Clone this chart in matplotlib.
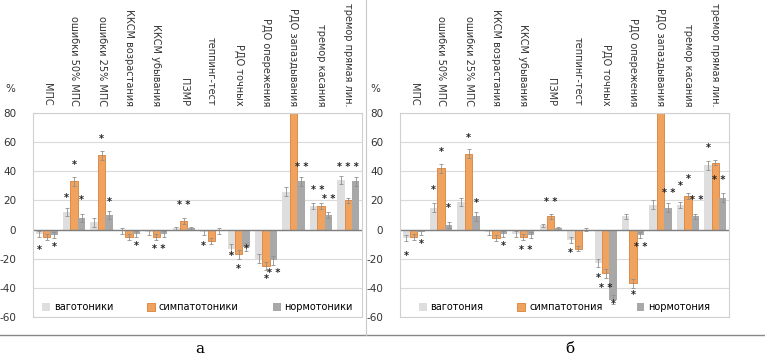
import numpy as np
import matplotlib.pyplot as plt
from matplotlib.lines import Line2D

plt.rcParams["axes.unicode_minus"] = False

# --- данные ---
categories = ["МПС", "ошибки 50% МПС", "ошибки 25% МПС", "ККСМ возрастания",
              "ККСМ убывания", "ПЗМР", "теппинг-тест", "РДО точных",
              "РДО опережения", "РДО запаздывания", "тремор касания",
              "тремор прямая лин."]

# панель а
vago_a = [-3, 12, 5, -1, -2, 1, -2, -13, -20, 26, 16, 34]
symp_a = [-5, 33, 51, -5, -5, 6, -8, -17, -25, 95, 16, 20]
norm_a = [-4, 8, 10, -3, -3, 1, -1, -12, -21, 33, 10, 33]
err_a_vago = [2, 3, 3, 2, 2, 1, 2, 3, 3, 3, 2, 3]
err_a_symp = [2, 3, 3, 2, 2, 2, 2, 3, 3, 3, 2, 2]
err_a_norm = [2, 3, 3, 2, 2, 1, 2, 3, 3, 3, 2, 3]
stars_a = [(0, -1, -14, "*"), (0, 1, -12, "*"),
           (1, 0, 44, "*"), (1, -1, 22, "*"), (1, 1, 20, "*"),
           (2, 0, 62, "*"), (2, 1, 19, "*"),
           (3, 1, -11, "*"), (4, 0.3, -13, "* *"), (5, 0, 17, "* *"),
           (6, -1, -11, "*"),
           (7, -1, -18, "*"), (7, 0, -27, "*"), (7, 1, -13, "*"),
           (8, 0, -34, "*"), (8, 1.1, -30, "* *"),
           (9, 1.1, 43, "* *"),
           (10, -0.4, 27, "* *"), (10, 1, 21, "* *"),
           (11, 0, 43, "* * *")]
legend_a = ["ваготоники", "симпатотоники", "нормотоники"]

# панель б
vago_b = [-6, 15, 19, -2, -3, 3, -7, -23, 9, 17, 17, 44]
symp_b = [-5, 42, 52, -6, -5, 9, -13, -30, -37, 95, 23, 46]
norm_b = [-2, 3, 9, -3, -4, 1, 0, -48, -4, 15, 9, 22]
err_b_vago = [2, 3, 3, 2, 2, 1, 2, 3, 2, 3, 2, 3]
err_b_symp = [2, 3, 3, 2, 2, 2, 2, 3, 3, 3, 2, 2]
err_b_norm = [2, 2, 3, 2, 2, 1, 1, 3, 2, 3, 2, 3]
stars_b = [(0, -1, -18, "*"), (0, 1, -10, "*"),
           (1, 0, 53, "*"), (1, -1, 27, "*"), (1, 1, 15, "*"),
           (2, 0, 63, "*"), (2, 1, 18, "*"),
           (3, 1, -11, "*"), (4, 0.3, -14, "* *"), (5, 0, 19, "* *"),
           (6, -1, -16, "*"),
           (7, -1, -33, "*"), (7, 0, -40, "* *"), (7, 1, -51, "*"),
           (8, 1.1, -12, "* *"), (8, 0, -45, "*"),
           (9, 1.1, 25, "* *"),
           (10, -1, 30, "*"), (10, 0, 35, "*"), (10, 1.2, 20, "* *"),
           (11, -1, 56, "*"), (11, 0.5, 34, "* *")]
legend_b = ["ваготония", "симпатотония", "нормотония"]

c_vago = "#dedede"
c_symp = "#f0a35e"
c_norm = "#a8a8a8"

fig = plt.figure(figsize=(7.65, 3.59), dpi=100)


def draw(ax, vago, symp, norm, errs, stars, leg_labels, pad):
    x = np.arange(len(categories))
    w = 0.27
    ekw = dict(ecolor="#909090", elinewidth=0.6, capsize=1.5, capthick=0.6)
    b1 = ax.bar(x - w, vago, w, color=c_vago, yerr=errs[0], error_kw=ekw)
    b2 = ax.bar(x, symp, w, color=c_symp, edgecolor="#d9803a", linewidth=0.6,
                yerr=errs[1], error_kw=ekw)
    b3 = ax.bar(x + w, norm, w, color=c_norm, yerr=errs[2], error_kw=ekw)
    for i, off, y, s in stars:
        ax.text(i + off * w, y, s, ha="center", va="center", fontsize=7,
                fontweight="bold", color="#222222")
    ax.set_xlim(-0.5, len(categories) - 0.5)
    ax.set_ylim(-60, 80)
    ax.set_yticks(range(-60, 81, 20))
    ax.grid(axis="y", color="#dadada", lw=0.8)
    ax.set_axisbelow(True)
    ax.axhline(0, color="#7f7f7f", lw=1)
    ax.xaxis.tick_top()
    ax.set_xticks(x, categories, rotation=-90, fontsize=7, color="#333333")
    ax.tick_params(axis="x", length=0, pad=5)
    ax.tick_params(axis="y", length=0, pad=pad, labelsize=7.5, labelcolor="#333333")
    for sp in ax.spines.values():
        sp.set_color("#d0d0d0")
        sp.set_linewidth(0.8)
    ax.legend([b1, b2, b3], leg_labels, loc="lower center",
              bbox_to_anchor=(0.5, -0.02), ncol=3, frameon=False, fontsize=7,
              handlelength=0.8, handleheight=0.8, columnspacing=3.5,
              handletextpad=0.4)


ax1 = fig.add_axes([33 / 765, 1 - 317 / 359, 329 / 765, 204 / 359])
ax2 = fig.add_axes([400 / 765, 1 - 317 / 359, 329 / 765, 204 / 359])

draw(ax1, vago_a, symp_a, norm_a, (err_a_vago, err_a_symp, err_a_norm),
     stars_a, legend_a, 12)
draw(ax2, vago_b, symp_b, norm_b, (err_b_vago, err_b_symp, err_b_norm),
     stars_b, legend_b, 12)

fig.text(10 / 765, 1 - 92 / 359, "%", fontsize=7.5, color="#333333", ha="center")
fig.text(375 / 765, 1 - 92 / 359, "%", fontsize=7.5, color="#333333", ha="center")

# рамки панелей и подписи
fig.add_artist(Line2D([0, 1], [1 - 335 / 359] * 2, color="#888888", lw=1))
fig.add_artist(Line2D([366 / 765] * 2, [1 - 335 / 359, 1], color="#c8c8c8", lw=0.8))
fig.text(200 / 765, 1 - 349 / 359, "а", fontsize=11, family="DejaVu Serif",
         ha="center", va="center")
fig.text(570 / 765, 1 - 349 / 359, "б", fontsize=11, family="DejaVu Serif",
         ha="center", va="center")

fig.savefig("out.png", dpi=100)
